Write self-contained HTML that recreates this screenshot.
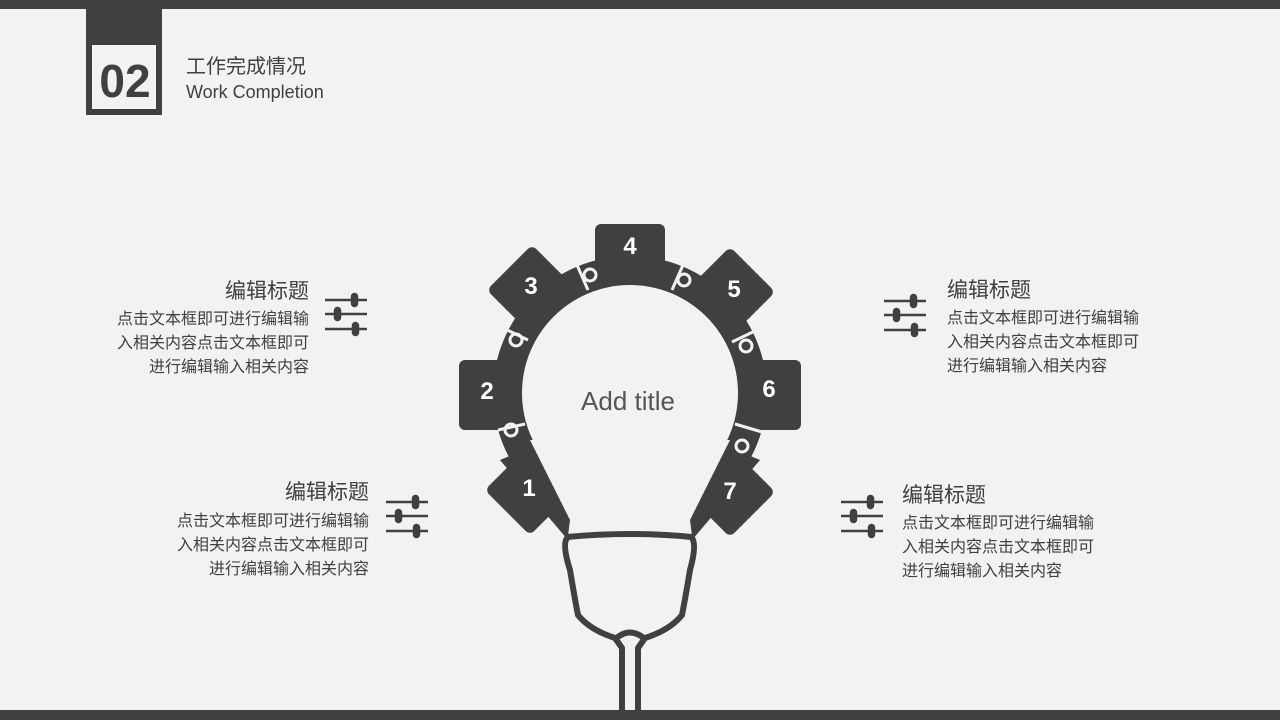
<!DOCTYPE html>
<html><head><meta charset="utf-8"><style>
body{margin:0;width:1280px;height:720px;background:#f2f2f2;position:relative;overflow:hidden;font-family:"Liberation Sans","Noto Sans CJK SC",sans-serif;color:#404040}
.t{position:absolute;white-space:nowrap}
.ti{font-size:21px;color:#404040}
.b{font-size:16px;line-height:24px;color:#404040}
.r{text-align:right}
</style></head><body>
<div style="position:absolute;left:0;top:0;width:1280px;height:9px;background:#404040"></div>
<div style="position:absolute;left:0;top:710px;width:1280px;height:10px;background:#404040"></div>
<div style="position:absolute;left:86px;top:9px;width:76px;height:106px;background:#404040"></div>
<div style="position:absolute;left:92px;top:45px;width:64px;height:64px;background:#f2f2f2"></div>
<div class="t" style="left:92px;top:52px;width:66px;text-align:center;font-size:46px;font-weight:bold;color:#404040;line-height:58px">02</div>
<div class="t" style="left:186px;top:54px;font-size:20px;line-height:26px">工作完成情况</div>
<div class="t" style="left:186px;top:80px;font-size:18px;line-height:24px">Work Completion</div>

<svg width="1280" height="720" style="position:absolute;left:0;top:0">
<g fill="#404040">
<circle cx="630" cy="393" r="137"/>
<rect x="595" y="224" width="70" height="60" rx="6"/>
<rect x="459" y="360" width="70" height="70" rx="6"/>
<rect x="731" y="360" width="70" height="70" rx="6"/>
<rect x="-32" y="-32" width="64" height="64" rx="6" transform="translate(532,290) rotate(45)"/>
<rect x="-32" y="-32" width="64" height="64" rx="6" transform="translate(730,292) rotate(45)"/>
<rect x="-32" y="-32" width="64" height="64" rx="6" transform="translate(530,490) rotate(45)"/>
<rect x="-32" y="-32" width="64" height="64" rx="6" transform="translate(730,492) rotate(45)"/>
<polygon points="500,460 548,440 578,520 568,540"/>
<polygon points="760,460 712,440 682,520 692,540"/>
</g>
<g fill="#f2f2f2">
<circle cx="630" cy="393" r="108"/>
<polygon points="530,440 730,440 690,520 692,536 568,536 570,520"/>
</g>
<g fill="none" stroke="#f2f2f2" stroke-width="3">
<line x1="498" y1="430" x2="525" y2="424"/><circle cx="511" cy="430" r="6"/>
<line x1="503" y1="328" x2="528" y2="340"/><circle cx="516" cy="340" r="6"/>
<line x1="577" y1="265" x2="588" y2="290"/><circle cx="590" cy="275" r="6"/>
<line x1="683" y1="265" x2="672" y2="290"/><circle cx="684" cy="280" r="6"/>
<line x1="757" y1="330" x2="732" y2="342"/><circle cx="746" cy="346" r="6"/>
<line x1="762" y1="432" x2="735" y2="424"/><circle cx="742" cy="446" r="6"/>
</g>
<g fill="none" stroke="#404040" stroke-width="6" stroke-linejoin="round">
<path d="M567,537 Q630,531 692,537"/>
<path d="M567,538 Q562,545 570,570 Q575,600 578,615 Q590,630 615,638 L622,648 L622,712"/>
<path d="M692,538 Q697,545 690,570 Q685,600 682,615 Q670,630 645,638 L638,648 L638,712"/>
<path d="M614,640 Q630,625 646,640"/>
</g>
<g fill="#fff" font-family="Liberation Sans" font-weight="bold" font-size="24" text-anchor="middle">
<text x="630" y="254">4</text><text x="531" y="294">3</text><text x="734" y="297">5</text>
<text x="487" y="399">2</text><text x="769" y="397">6</text>
<text x="529" y="496">1</text><text x="730" y="499">7</text>
</g>
<text x="628" y="410" font-family="Liberation Sans" font-size="26" fill="#555" text-anchor="middle">Add title</text>
<g stroke="#404040" stroke-width="2.5" fill="#404040">
<g transform="translate(325,300)"><line x1="0" y1="0" x2="42" y2="0"/><line x1="0" y1="14" x2="42" y2="14"/><line x1="0" y1="29" x2="42" y2="29"/><rect x="27" y="-6" width="5" height="12" rx="2.5"/><rect x="10" y="8" width="5" height="12" rx="2.5"/><rect x="28" y="23" width="5" height="12" rx="2.5"/></g>
<g transform="translate(386,502)"><line x1="0" y1="0" x2="42" y2="0"/><line x1="0" y1="14" x2="42" y2="14"/><line x1="0" y1="29" x2="42" y2="29"/><rect x="27" y="-6" width="5" height="12" rx="2.5"/><rect x="10" y="8" width="5" height="12" rx="2.5"/><rect x="28" y="23" width="5" height="12" rx="2.5"/></g>
<g transform="translate(884,301)"><line x1="0" y1="0" x2="42" y2="0"/><line x1="0" y1="14" x2="42" y2="14"/><line x1="0" y1="29" x2="42" y2="29"/><rect x="27" y="-6" width="5" height="12" rx="2.5"/><rect x="10" y="8" width="5" height="12" rx="2.5"/><rect x="28" y="23" width="5" height="12" rx="2.5"/></g>
<g transform="translate(841,502)"><line x1="0" y1="0" x2="42" y2="0"/><line x1="0" y1="14" x2="42" y2="14"/><line x1="0" y1="29" x2="42" y2="29"/><rect x="27" y="-6" width="5" height="12" rx="2.5"/><rect x="10" y="8" width="5" height="12" rx="2.5"/><rect x="28" y="23" width="5" height="12" rx="2.5"/></g>
</g>
</svg>

<div class="t ti r" style="right:971px;top:275px">编辑标题</div>
<div class="t b r" style="right:971px;top:308px">点击文本框即可进行编辑输<br>入相关内容点击文本框即可<br>进行编辑输入相关内容</div>
<div class="t ti r" style="right:911px;top:476px">编辑标题</div>
<div class="t b r" style="right:911px;top:510px">点击文本框即可进行编辑输<br>入相关内容点击文本框即可<br>进行编辑输入相关内容</div>
<div class="t ti" style="left:947px;top:274px">编辑标题</div>
<div class="t b" style="left:947px;top:307px">点击文本框即可进行编辑输<br>入相关内容点击文本框即可<br>进行编辑输入相关内容</div>
<div class="t ti" style="left:902px;top:479px">编辑标题</div>
<div class="t b" style="left:902px;top:512px">点击文本框即可进行编辑输<br>入相关内容点击文本框即可<br>进行编辑输入相关内容</div>
</body></html>
